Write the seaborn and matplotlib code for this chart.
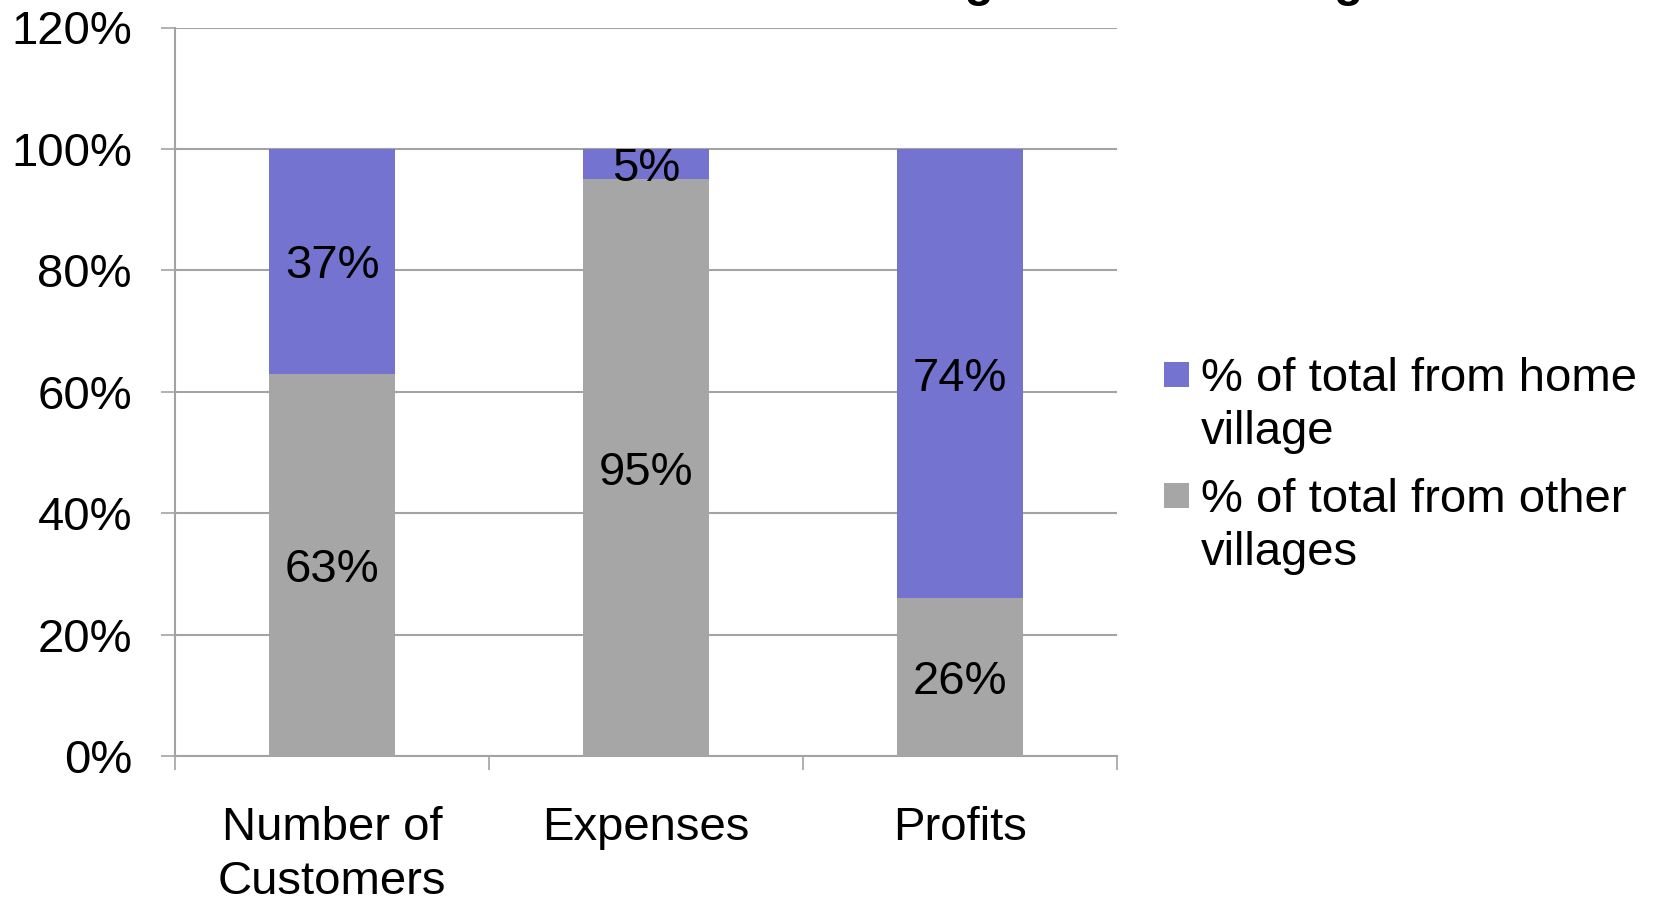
import matplotlib
matplotlib.use("Agg")
import matplotlib.pyplot as plt
from matplotlib.patches import Rectangle
from matplotlib.ticker import FixedLocator
from matplotlib.transforms import offset_copy
import seaborn as sns
import pandas as pd

# donnees
categories = ["Number of\nCustomers", "Expenses", "Profits"]
home_pct = [37, 5, 74]
other_pct = [63, 95, 26]
series_names = ["% of total from home\nvillage", "% of total from other\nvillages"]
y_ticks = [0, 20, 40, 60, 80, 100, 120]

blue = "#7474D0"
grey = "#A6A6A6"
line_grey = "#A3A3A3"
FS = 34

df = pd.DataFrame({"cat": categories, "home": home_pct, "other": other_pct})
df["total"] = df["home"] + df["other"]

sns.set_style("white")
plt.rcParams["font.family"] = ["Liberation Sans", "DejaVu Sans"]
plt.rcParams["text.color"] = "black"
plt.rcParams["xtick.labelcolor"] = "black"
plt.rcParams["ytick.labelcolor"] = "black"

W, H = 1658, 900
fig = plt.figure(figsize=(W / 100, H / 100), dpi=100)
ax = fig.add_axes([175 / W, 1 - 756 / H, (1117 - 175) / W, (756 - 27.5) / H])

# barres empilees : total en bleu puis la part "other" en gris par dessus
sns.barplot(data=df, x="cat", y="total", color=blue, width=0.4, saturation=1,
            linewidth=0, ax=ax, zorder=3)
sns.barplot(data=df, x="cat", y="other", color=grey, width=0.4, saturation=1,
            linewidth=0, ax=ax, zorder=3)

# etiquettes centrees dans chaque segment (baseline decalee de la moitie des capitales)
trans = offset_copy(ax.transData, fig=fig, y=-12.3, units="points")
for bb, h, o in zip(ax.containers[1], df["home"], df["other"]):
    x = bb.get_x() + bb.get_width() / 2
    ax.text(x, o / 2, f"{o}%", ha="center", va="baseline", fontsize=FS, transform=trans, zorder=4)
    ax.text(x, o + h / 2, f"{h}%", ha="center", va="baseline", fontsize=FS, transform=trans, zorder=4)

ax.set_xlim(-0.5, 2.5)
ax.set_ylim(0, 120)
ax.set_yticks(y_ticks)
ax.set_yticklabels([f"{t}%" for t in y_ticks])
ax.yaxis.grid(True, color=line_grey, linewidth=1.5, zorder=0)
ax.set_xlabel("")
ax.set_ylabel("")

ax.xaxis.set_minor_locator(FixedLocator([-0.5, 0.5, 1.5, 2.5]))
ax.tick_params(axis="x", which="major", length=0, pad=36, labelsize=FS)
ax.tick_params(axis="x", which="minor", length=10, width=1.2, color=line_grey, direction="out")
ax.tick_params(axis="y", length=10, width=1.2, color=line_grey, direction="out", pad=21, labelsize=FS)
ax.tick_params(bottom=True, left=True, which="both")
for lab in ax.get_xticklabels():
    lab.set_linespacing(1.3)

for s in ["top", "right"]:
    ax.spines[s].set_visible(False)
for s in ["left", "bottom"]:
    ax.spines[s].set_color(line_grey)
    ax.spines[s].set_linewidth(1.5)

# legende faite a la main pour caler le carre sur la premiere ligne
for name, col, sq_top, txt_top in [(series_names[0], blue, 362, 357),
                                   (series_names[1], grey, 483, 478)]:
    fig.patches.append(Rectangle((1164 / W, 1 - (sq_top + 24.5) / H), 24.5 / W, 24.5 / H,
                                 transform=fig.transFigure, facecolor=col, edgecolor="none"))
    fig.text(1201 / W, 1 - txt_top / H, name, ha="left", va="top", fontsize=FS, linespacing=1.26)

# titre coupe en haut de l'image
fig.text(893 / W, 1 + 4 / H, "Contribution of Home Village vs Other Villages",
         ha="center", va="baseline", fontsize=FS, fontweight="bold")

fig.savefig("out.png", dpi=100)
